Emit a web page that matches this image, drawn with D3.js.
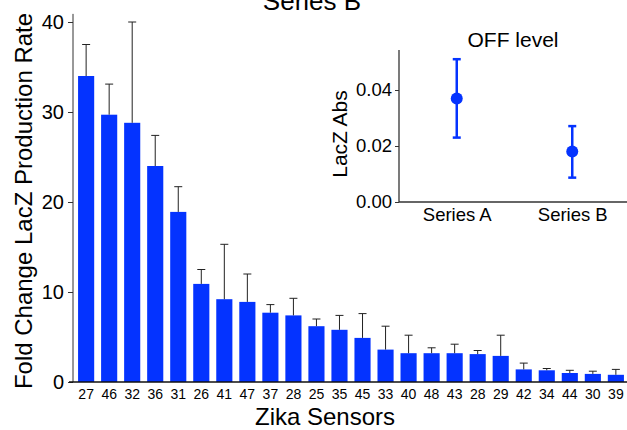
<!DOCTYPE html>
<meta charset="utf-8">
<style>
body { margin: 0; background: #fff; }
text { font-family: "Liberation Sans", Arial, sans-serif; fill: #000; }
</style>
<body>
<div id="chart"></div>
<script src="https://d3js.org/d3.v7.min.js"></script>
<script>

var width = 627, height = 430;

// main chart data
var sensors = ["27","46","32","36","31","26","41","47","37","28","25","35","45","33","40","48","43","28","29","42","34","44","30","39"];
var foldChange = [34.0, 29.7, 28.8, 24.0, 18.9, 10.9, 9.2, 8.9, 7.7, 7.4, 6.2, 5.8, 4.9, 3.6, 3.2, 3.2, 3.2, 3.1, 2.9, 1.4, 1.3, 1.0, 0.9, 0.8];
var errTop = [37.5, 33.1, 40.0, 27.4, 21.7, 12.5, 15.3, 12.0, 8.6, 9.3, 7.0, 7.4, 7.6, 6.2, 5.2, 3.8, 4.2, 3.5, 5.2, 2.1, 1.5, 1.3, 1.2, 1.4];
var yTicks = [0, 10, 20, 30, 40];

// inset data
var insetSeries = ["Series A", "Series B"];
var insetMean = [0.037, 0.018];
var insetLow = [0.023, 0.0087];
var insetHigh = [0.051, 0.0271];
var insetTicks = [0.00, 0.02, 0.04];

var blue = "#0433ff";
var font = "Liberation Sans, Arial, sans-serif";

var svg = d3.select("#chart").append("svg")
  .attr("width", width)
  .attr("height", height);

var idx = d3.range(sensors.length);

var x = d3.scaleBand(idx, [73, 629])
  .paddingInner(0.3)
  .paddingOuter(0.22);

var y = d3.scaleLinear([0, 40], [382, 22]);

// title (cut off at top, as in the original)
svg.append("text")
  .attr("x", 312).attr("y", 10)
  .attr("text-anchor", "middle")
  .style("font-size", "26px")
  .text("Series B");

// bars
svg.append("g").selectAll("rect")
  .data(idx)
  .join("rect")
    .attr("x", i => x(i))
    .attr("y", i => y(foldChange[i]))
    .attr("width", x.bandwidth())
    .attr("height", i => y(0) - y(foldChange[i]))
    .attr("fill", blue);

// error bars, upper half only
var eb = svg.append("g").attr("stroke", "#222").attr("stroke-width", 1);
eb.selectAll("line.v")
  .data(idx)
  .join("line")
    .attr("class", "v")
    .attr("x1", i => x(i) + x.bandwidth() / 2)
    .attr("x2", i => x(i) + x.bandwidth() / 2)
    .attr("y1", i => y(foldChange[i]))
    .attr("y2", i => y(errTop[i]));
eb.selectAll("line.c")
  .data(idx)
  .join("line")
    .attr("class", "c")
    .attr("x1", i => x(i) + x.bandwidth() / 2 - 4)
    .attr("x2", i => x(i) + x.bandwidth() / 2 + 4)
    .attr("y1", i => y(errTop[i]))
    .attr("y2", i => y(errTop[i]));

// y axis
var yAxis = svg.append("g")
  .attr("transform", "translate(73,0)")
  .call(d3.axisLeft(y).tickValues(yTicks).tickSize(5).tickPadding(4).tickSizeOuter(0));
yAxis.select(".domain").attr("d", "M0," + y(40.9) + "V" + y(0)).attr("stroke", "#333");
yAxis.selectAll(".tick line").attr("stroke", "#333");
yAxis.selectAll("text").style("font-size", "20px").style("font-family", font);

// x axis
var xAxis = svg.append("g")
  .attr("transform", "translate(0,382)")
  .call(d3.axisBottom(x).tickFormat(i => sensors[i]).tickSize(0).tickPadding(7).tickSizeOuter(0));
xAxis.select(".domain").attr("d", "M69,0H627").attr("stroke", "#111").attr("stroke-width", 1.5);
xAxis.selectAll("text").style("font-size", "14px").style("font-family", font);

svg.append("text")
  .attr("x", 325).attr("y", 425)
  .attr("text-anchor", "middle")
  .style("font-size", "24px")
  .text("Zika Sensors");

svg.append("text")
  .attr("transform", "translate(32,201) rotate(-90)")
  .attr("text-anchor", "middle")
  .style("font-size", "24px")
  .text("Fold Change LacZ Production Rate");

// inset
var ix = d3.scalePoint(insetSeries, [399, 630]).padding(0.5);
var iy = d3.scaleLinear([0, 0.054], [202, 50.8]);

var ixAxis = svg.append("g")
  .attr("transform", "translate(0,202)")
  .call(d3.axisBottom(ix).tickSize(0).tickPadding(6).tickSizeOuter(0));
ixAxis.select(".domain").attr("d", "M399,0H627").attr("stroke", "#333").attr("stroke-width", 1.3);
ixAxis.selectAll("text").style("font-size", "18.5px").style("font-family", font);

var iyAxis = svg.append("g")
  .attr("transform", "translate(399,0)")
  .call(d3.axisLeft(iy).tickValues(insetTicks).tickFormat(d3.format(".2f")).tickSize(4).tickPadding(3).tickSizeOuter(0));
iyAxis.select(".domain").attr("d", "M0,50V202").attr("stroke", "#333").attr("stroke-width", 1.3);
iyAxis.selectAll(".tick line").attr("stroke", "#333");
iyAxis.selectAll("text").style("font-size", "18.5px").style("font-family", font);

svg.append("text")
  .attr("x", 513).attr("y", 47)
  .attr("text-anchor", "middle")
  .style("font-size", "21px")
  .text("OFF level");

svg.append("text")
  .attr("transform", "translate(347,134) rotate(-90)")
  .attr("text-anchor", "middle")
  .style("font-size", "21px")
  .text("LacZ Abs");

var ig = svg.append("g");
ig.selectAll("line.v")
  .data(insetSeries)
  .join("line")
    .attr("x1", d => ix(d)).attr("x2", d => ix(d))
    .attr("y1", (d, i) => iy(insetLow[i])).attr("y2", (d, i) => iy(insetHigh[i]))
    .attr("stroke", blue).attr("stroke-width", 2.5);
[insetLow, insetHigh].forEach(function(arr) {
  ig.append("g").selectAll("line")
    .data(insetSeries)
    .join("line")
      .attr("x1", d => ix(d) - 4).attr("x2", d => ix(d) + 4)
      .attr("y1", (d, i) => iy(arr[i])).attr("y2", (d, i) => iy(arr[i]))
      .attr("stroke", blue).attr("stroke-width", 2.5);
});
ig.selectAll("circle")
  .data(insetSeries)
  .join("circle")
    .attr("cx", d => ix(d))
    .attr("cy", (d, i) => iy(insetMean[i]))
    .attr("r", 6)
    .attr("fill", blue);

</script>
</body>
